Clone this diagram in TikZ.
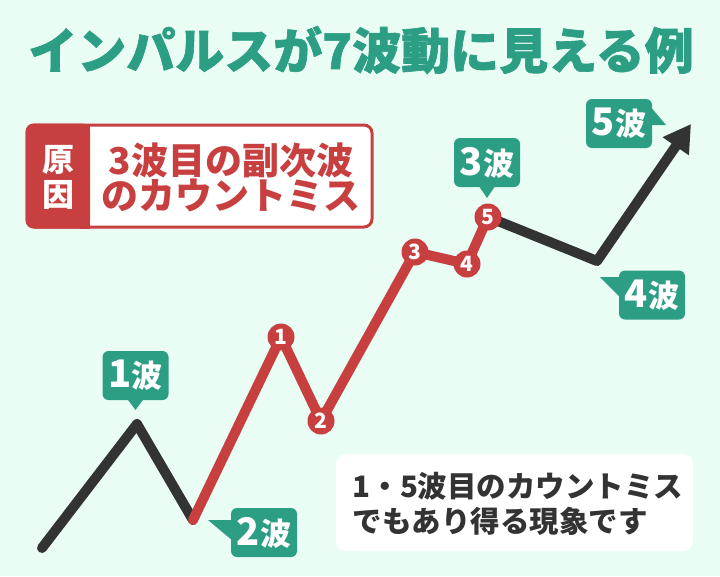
\documentclass[tikz,border=0pt]{standalone}
\usepackage{fontspec}
\setmainfont{Noto Sans CJK JP}
\newfontfamily\titlefont[BoldFeatures={FakeBold=1.3}]{Noto Sans CJK JP}
\usetikzlibrary{arrows.meta,calc}
\definecolor{bg}{HTML}{E9FDF5}
\definecolor{grn}{HTML}{2C9E83}
\definecolor{rd}{HTML}{C83F40}
\definecolor{dk}{HTML}{333333}
\newcommand{\wv}[1]{{\bfseries\fontsize{38}{38}\selectfont #1}{\bfseries\fontsize{31}{31}\selectfont 波}}
\begin{document}
\begin{tikzpicture}[x=1pt,y=-1pt,
  wave/.style={line width=10pt, line join=round, line cap=round},
  num/.style={circle, fill=rd, minimum size=27pt, inner sep=0pt, text=white, font=\bfseries\fontsize{21}{21}\selectfont},
  callout/.style={fill=grn, rounded corners=6pt, text=white, minimum width=66pt, minimum height=49pt, inner sep=0pt},
]
\fill[bg] (0,0) rectangle (720,576);
\useasboundingbox (0,0) rectangle (720,576);

% title
\node[text=grn, font=\titlefont\bfseries\fontsize{49}{49}\selectfont] (title) at (361,50) {インパルスが7波動に見える例};

% cause box
\fill[white, draw=rd, line width=3pt, rounded corners=8pt] (27,125) rectangle (372,227);
\fill[rd, rounded corners=8pt] (25.5,123.5) rectangle (90,228.5);
\fill[rd] (80,123.5) rectangle (90,228.5);
\node[text=white, align=center, font=\bfseries\fontsize{32}{35}\selectfont] (cause) at (58.5,177) {原\\因};
\node[text=rd, align=center, font=\bfseries\fontsize{37}{35}\selectfont] (causetext) at (231,177) {3波目の副次波\\のカウントミス};

% note box
\fill[white, rounded corners=10pt] (336,454) rectangle (693,551);
\node[text=dk, align=left, anchor=west, font=\bfseries\fontsize{29.5}{35}\selectfont] (note) at (349,504) {1・5波目のカウントミス\\でもあり得る現象です};

% wave points
\coordinate (p0) at (42,548);
\coordinate (p1) at (137,424);
\coordinate (p2) at (193,520);
\coordinate (c1) at (281,337);
\coordinate (c2) at (321,421);
\coordinate (c3) at (415,252);
\coordinate (c4) at (467,264);
\coordinate (c5) at (488,217);
\coordinate (p4) at (597,261);
\coordinate (p5) at (691,124);

\draw[wave, dk] (p0) -- (p1) -- (p2);
\draw[wave, rd] (p2) -- (c1) -- (c2) -- (c3) -- (c4) -- (c5);
\draw[wave, dk, line cap=butt, -{Triangle[length=27pt,width=30pt]}] (c5) -- (p4) -- (p5);

\node[num] (n1) at (c1) {1};
\node[num] (n2) at (c2) {2};
\node[num] (n3) at (c3) {3};
\node[num] (n4) at (c4) {4};
\node[num] (n5) at (c5) {5};

% callouts
\node[callout] (l1) at (135.5,375.5) {\wv{1}};
\node[callout] (l2) at (264,532.5) {\wv{2}};
\node[callout] (l3) at (487,162.5) {\wv{3}};
\node[callout] (l4) at (652,295) {\wv{4}};
\node[callout] (l5) at (619,123.5) {\wv{5}};

\coordinate (t1) at (135.5,410);
\coordinate (t2) at (208,520);
\coordinate (t3) at (487,198);
\coordinate (t4) at (600,277);
\coordinate (t5) at (666,125);

\fill[grn] ($(l1.south)+(-8,-1)$) -- ($(l1.south)+(8,-1)$) -- (t1) -- cycle;
\fill[grn] (t2) -- ($(l2.west)+(1,-12.5)$) -- ($(l2.west)+(1,7.5)$) -- cycle;
\fill[grn] ($(l3.south)+(-8,-1)$) -- ($(l3.south)+(8,-1)$) -- (t3) -- cycle;
\fill[grn] (t4) -- ($(l4.west)+(1,-18)$) -- ($(l4.west)+(1,2)$) -- cycle;
\fill[grn] (t5) -- ($(l5.east)+(-1,1.5)$) -- ($(l5.east)+(-1,-16)$) -- cycle;
\end{tikzpicture}
\end{document}
